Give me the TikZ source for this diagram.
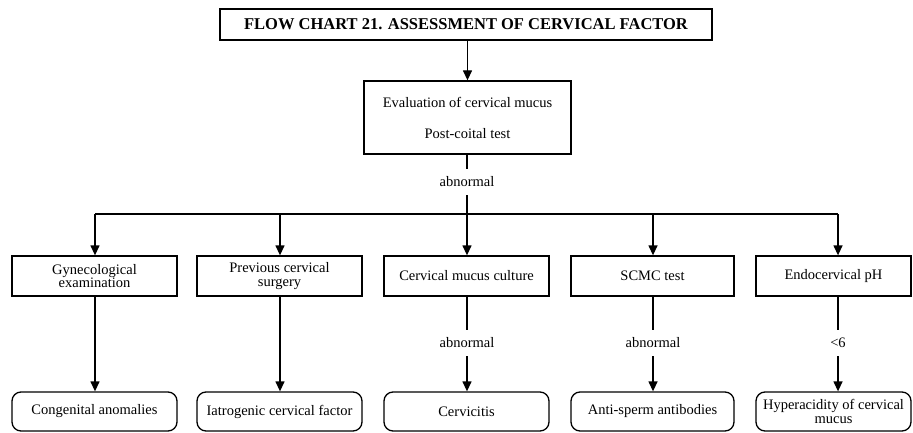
\documentclass[tikz,border=0pt]{standalone}
\usepackage{fontspec}
\setmainfont{Liberation Serif}
\usetikzlibrary{arrows.meta}

\tikzset{
  txt/.style={font=\fontsize{14.5}{13.5}\selectfont},
  box/.style={draw, line width=1.3pt, inner sep=0pt, align=center, txt},
  result/.style={box, rounded corners=9pt},
  heading/.style={draw, line width=1.3pt, inner sep=0pt,
    font=\fontsize{16.5}{18}\selectfont\bfseries},
  cond/.style={inner xsep=2pt, inner ysep=8pt, txt},
  link/.style={line width=1.3pt},
  arr/.style={link, -{Triangle[length=10pt,width=9pt]}},
}

\begin{document}
\begin{tikzpicture}[x=1pt, y=-1pt]
\useasboundingbox (0,0) rectangle (913,433);

% heading and first test
\node[heading, minimum width=492pt, minimum height=31pt] (title) at (466,24.5)
  {FLOW CHART 21. ASSESSMENT OF CERVICAL FACTOR};
\node[box, minimum width=207pt, minimum height=73pt] (eval) at (467.5,117.5) {};
\node[txt] (evalA) at (467.5,102) {Evaluation of cervical mucus};
\node[txt] (evalB) at (467.5,134) {Post-coital test};
\node[cond] (ab0) at (467,182) {abnormal};

% distribution bar
\coordinate (b1) at (95,214);
\coordinate (b2) at (280,214);
\coordinate (b3) at (467,214);
\coordinate (b4) at (653,214);
\coordinate (b5) at (838,214);

% second row: investigations
\node[box, minimum width=165pt, minimum height=40pt] (gyn)  at (94.5,276)  {Gynecological\\examination};
\node[box, minimum width=165pt, minimum height=40pt] (prev) at (279.5,276) {Previous cervical\\surgery};
\node[box, minimum width=165pt, minimum height=40pt] (cult) at (466.5,276) {Cervical mucus culture};
\node[box, minimum width=163pt, minimum height=40pt] (scmc) at (652.5,276) {SCMC test};
\node[box, minimum width=155pt, minimum height=40pt] (endo) at (833.5,276) {Endocervical pH};

% conditions
\node[cond] (ab1) at (467,343) {abnormal};
\node[cond] (ab2) at (653,343) {abnormal};
\node[cond] (lt6) at (838,343) {<6};

% third row: diagnoses
\node[result, minimum width=165pt, minimum height=39pt] (cong) at (94.5,411.5)  {Congenital anomalies};
\node[result, minimum width=165pt, minimum height=39pt] (iatr) at (279.5,411.5) {Iatrogenic cervical factor};
\node[result, minimum width=165pt, minimum height=39pt] (cerv) at (466.5,411.5) {Cervicitis};
\node[result, minimum width=163pt, minimum height=39pt] (anti) at (652.5,411.5) {Anti-sperm antibodies};
\node[result, minimum width=155pt, minimum height=39pt] (hyp)  at (833.5,411.5) {Hyperacidity of cervical\\mucus};

% connectors
\draw[arr] (title.south -| eval) -- (eval.north);
\draw[link] (eval.south -| ab0) -- (ab0.north);
\draw[link] (ab0.south) -- (b3);
\draw[link] (b1) -- (b5);
\foreach \b/\n in {b1/gyn, b2/prev, b3/cult, b4/scmc, b5/endo}
  \draw[arr] (\b) -- (\b |- \n.north);

\draw[arr] (gyn.south -| b1) -- (b1 |- cong.north);
\draw[arr] (prev.south -| b2) -- (b2 |- iatr.north);
\draw[link] (cult.south -| ab1) -- (ab1.north);
\draw[arr] (ab1.south) -- (ab1 |- cerv.north);
\draw[link] (scmc.south -| ab2) -- (ab2.north);
\draw[arr] (ab2.south) -- (ab2 |- anti.north);
\draw[link] (endo.south -| lt6) -- (lt6.north);
\draw[arr] (lt6.south) -- (lt6 |- hyp.north);
\end{tikzpicture}
\end{document}
